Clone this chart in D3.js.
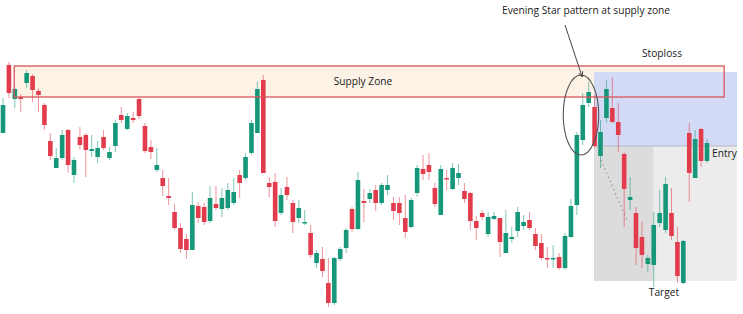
<!DOCTYPE html>
<html>
<head>
<meta charset="utf-8">
<script src="https://cdn.jsdelivr.net/npm/d3@7"></script>
<style>
  body { margin: 0; background: #fff; }
  text { font-family: "Open Sans", sans-serif; fill: #1a1a1a; font-weight: 500; }
</style>
</head>
<body>
<div id="chart"></div>
<script>
// candles (arbitrary price units)
const open = [267,335,301,303,317,324,309,295,259,232, 242,270,225,263,265,249,243,263,242,254,
  285,271,282,301,274,253,230,222,204,188, 172,161,150,194,193,179,196,191,192,197,
  225,222,247,267,320,217,218,187,213,197, 182,177,167,137,141,117,97,141,152,191,
  171,199,201,210,197,210,197,197,182,173, 207,231,235,212,185,222,211,222,209,207,
  179,187,166,181,182,147,161,169,174,180, 166,157,142,141,143,132,163,195,260,297,
  293,244,282,292,278,246,200,187,163,136, 135,177,170,187,158,117,267,222,271,239];
const close = [295,307,311,301,327,310,305,275,244,242, 265,235,240,255,250,251,252,252,248,277,
  280,284,280,284,249,248,235,214,202,172, 151,150,195,182,178,202,192,202,210,208,
  217,243,277,311,227,213,179,205,205,178, 192,178,145,147,129,97,142,151,170,171,
  220,197,207,197,215,215,189,187,168,200, 232,226,228,196,231,221,232,227,201,179,
  172,183,183,184,158,167,163,188,178,172, 154,142,141,142,132,164,194,265,295,308,
  254,268,311,278,265,211,203,152,145,142, 175,187,216,164,124,159,227,261,239,257];
const high = [302,338,313,306,330,326,312,297,267,252, 270,271,243,273,267,265,259,270,253,280,
  293,287,288,303,277,260,252,230,222,196, 177,166,208,198,197,214,214,212,217,222,
  230,247,280,318,325,223,227,212,223,200, 200,190,175,150,153,142,143,153,172,193,
  228,211,211,215,217,225,203,203,205,202, 235,245,247,217,235,230,237,236,217,208,
  184,190,188,188,182,190,173,193,185,188, 172,166,153,155,147,167,201,268,307,318,
  305,280,320,323,297,248,223,193,178,145, 188,210,223,212,173,160,277,270,272,261];
const low = [267,302,292,288,312,298,288,270,240,232, 240,227,217,250,223,243,237,250,240,248,
  277,270,277,281,247,241,228,204,195,170, 147,141,150,177,175,177,190,183,190,195,
  202,220,245,267,227,203,173,185,200,167, 177,175,142,132,123,93,95,139,147,168,
  170,178,197,189,195,205,180,175,162,172, 203,220,220,193,185,210,210,215,197,170,
  160,180,163,180,143,147,157,163,170,170, 150,140,132,132,130,130,162,185,255,293,
  252,232,278,277,248,173,190,135,132,128, 113,173,167,160,117,116,198,222,233,237];

// drawing tools, in candle index / price units
const zone = [1.9, 121.9, 303, 334];          // i0, i1, bottom, top
const trade = { i0: 99.9, split: 110, i1: 124.1, entry: 254, stop: 328, target: 119 };
const star = { i: 97.7, p: 285, ri: 3.0, rp: 40 };
const arrowLine = [[95.0, 375], [97.9, 323]];
const pathLine = [[101.1, 240], [105.6, 178]];

const W = 743, H = 314;
const upColor = "#16977a", downColor = "#e23b4b";

const svg = d3.select("#chart").append("svg")
  .attr("width", W).attr("height", H);

const x = d3.scaleLinear().domain([0, open.length - 1]).range([3, 707]);
const y = d3.scaleLinear().domain([86, 400]).range([H, 0]);
const bw = 4.6;

const candles = d3.range(open.length).map(i => ({ i, o: open[i], c: close[i], h: high[i], l: low[i] }));

// supply zone fill
svg.append("rect")
  .attr("x", x(zone[0])).attr("y", y(zone[3]))
  .attr("width", x(zone[1]) - x(zone[0])).attr("height", y(zone[2]) - y(zone[3]))
  .attr("fill", "#fcf2e6");

// stoploss / target boxes
svg.append("rect")
  .attr("x", x(trade.i0)).attr("y", y(trade.stop))
  .attr("width", x(trade.i1) - x(trade.i0)).attr("height", y(trade.entry) - y(trade.stop))
  .attr("fill", "#d3daf5");
svg.append("rect")
  .attr("x", x(trade.i0)).attr("y", y(trade.entry))
  .attr("width", x(trade.split) - x(trade.i0)).attr("height", y(trade.target) - y(trade.entry))
  .attr("fill", "#dcdcdd");
svg.append("rect")
  .attr("x", x(trade.split)).attr("y", y(trade.entry))
  .attr("width", x(trade.i1) - x(trade.split)).attr("height", y(trade.target) - y(trade.entry))
  .attr("fill", "#ececed");
svg.append("line")
  .attr("x1", x(trade.i0)).attr("x2", x(trade.i1))
  .attr("y1", y(trade.entry)).attr("y2", y(trade.entry))
  .attr("stroke", "#b9b9c2").attr("stroke-width", 1);

// dotted projection line
svg.append("line")
  .attr("x1", x(pathLine[0][0])).attr("y1", y(pathLine[0][1]))
  .attr("x2", x(pathLine[1][0])).attr("y2", y(pathLine[1][1]))
  .attr("stroke", "#999").attr("stroke-width", 1.2).attr("stroke-dasharray", "1.5,3");

// candles
const g = svg.append("g");
g.selectAll("line.wick").data(candles).enter()
  .append("line")
    .attr("class", "wick")
    .attr("x1", d => x(d.i)).attr("x2", d => x(d.i))
    .attr("y1", d => y(d.h)).attr("y2", d => y(d.l))
    .attr("stroke", d => d.c >= d.o ? upColor : downColor)
    .attr("stroke-opacity", 0.55)
    .attr("stroke-width", 1);

g.selectAll("rect.body").data(candles).enter()
  .append("rect")
    .attr("class", "body")
    .attr("x", d => x(d.i) - bw / 2)
    .attr("y", d => y(Math.max(d.o, d.c)))
    .attr("width", bw)
    .attr("height", d => Math.max(1.5, Math.abs(y(d.o) - y(d.c))))
    .attr("fill", d => d.c >= d.o ? upColor : downColor);

// supply zone outline
svg.append("rect")
  .attr("x", x(zone[0])).attr("y", y(zone[3]))
  .attr("width", x(zone[1]) - x(zone[0])).attr("height", y(zone[2]) - y(zone[3]))
  .attr("fill", "none").attr("stroke", "#d9545c").attr("stroke-width", 1.3);

// evening star ellipse
svg.append("ellipse")
  .attr("cx", x(star.i)).attr("cy", y(star.p))
  .attr("rx", x(star.i + star.ri) - x(star.i)).attr("ry", y(star.p - star.rp) - y(star.p))
  .attr("fill", "none").attr("stroke", "#555").attr("stroke-width", 1.1);

// arrow
svg.append("defs").append("marker")
  .attr("id", "head").attr("viewBox", "0 0 10 10")
  .attr("refX", 9).attr("refY", 5)
  .attr("markerWidth", 6).attr("markerHeight", 6)
  .attr("orient", "auto")
  .append("path").attr("d", "M0,1 L9,5 L0,9").attr("fill", "none").attr("stroke", "#444").attr("stroke-width", 1.4);
svg.append("line")
  .attr("x1", x(arrowLine[0][0])).attr("y1", y(arrowLine[0][1]))
  .attr("x2", x(arrowLine[1][0])).attr("y2", y(arrowLine[1][1]))
  .attr("stroke", "#444").attr("stroke-width", 1)
  .attr("marker-end", "url(#head)");

// labels
svg.append("text").attr("x", 502).attr("y", 14)
  .attr("font-size", 10.2).text("Evening Star pattern at supply zone");
svg.append("text").attr("x", 363).attr("y", 85).attr("text-anchor", "middle")
  .attr("font-size", 10.2).text("Supply Zone");
svg.append("text").attr("x", 662).attr("y", 57).attr("text-anchor", "middle")
  .attr("font-size", 10.2).text("Stoploss");
svg.append("text").attr("x", 712).attr("y", 157)
  .attr("font-size", 10.2).text("Entry");
svg.append("text").attr("x", 664).attr("y", 296).attr("text-anchor", "middle")
  .attr("font-size", 10.2).text("Target");
</script>
</body>
</html>
